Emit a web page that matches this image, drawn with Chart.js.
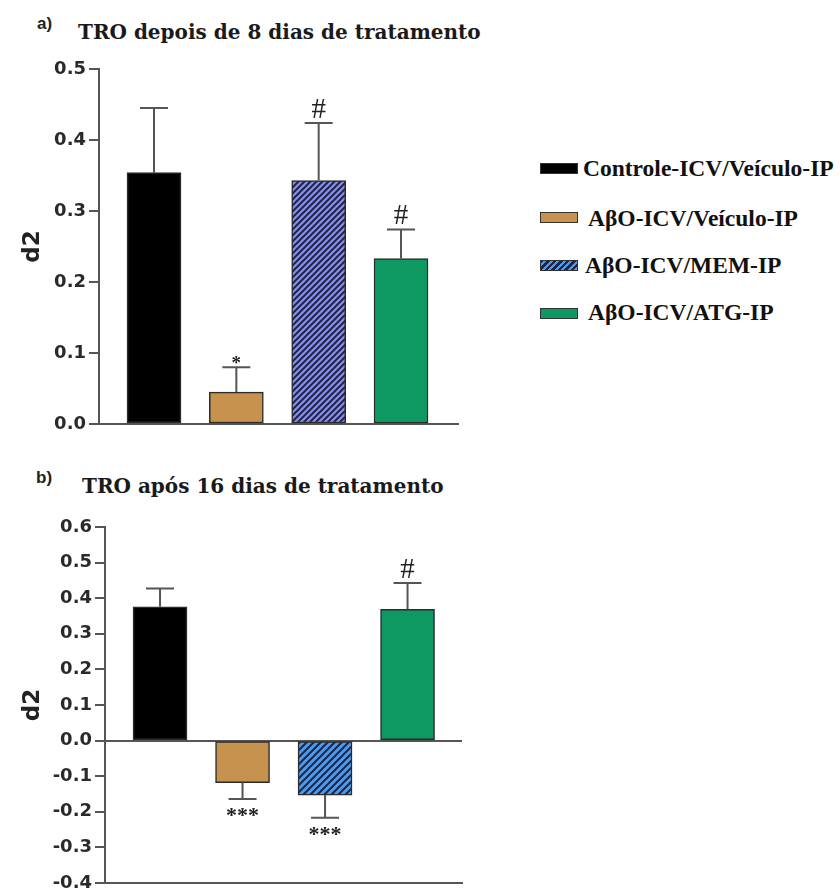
<!DOCTYPE html>
<html>
<head>
<meta charset="utf-8">
<script src="https://cdn.jsdelivr.net/npm/chart.js@4.4.1/dist/chart.umd.min.js"></script>
<style>
  html, body { margin:0; padding:0; background:#fff; width:840px; height:891px; overflow:hidden; }
  .abs { position:absolute; white-space:nowrap; }
  .panel { font-family:"Liberation Sans", Arial, sans-serif; font-weight:bold; font-size:17px; line-height:17px; color:#222; }
  .title { font-family:"DejaVu Serif", serif; font-weight:bold; font-size:20px; line-height:20px; color:#1a1a1a; }
  .legtxt { font-family:"Liberation Serif", "Times New Roman", serif; font-weight:bold; font-size:23.5px; line-height:23.5px; color:#111; }
  .sw { position:absolute; width:38px; height:11px; box-sizing:border-box; border:1.5px solid #333; }
</style>
</head>
<body>
<div class="abs panel" style="left:37px; top:15px;">a)</div>
<div class="abs title" style="left:78px; top:22px;">TRO depois de 8 dias de tratamento</div>
<div class="abs panel" style="left:36px; top:469px;">b)</div>
<div class="abs title" style="left:82px; top:476px;">TRO após 16 dias de tratamento</div>

<div id="legend"></div>

<div class="abs" style="left:0; top:0; width:480px; height:450px;"><canvas id="chartA"></canvas></div>
<div class="abs" style="left:0; top:440px; width:480px; height:460px;"><canvas id="chartB"></canvas></div>

<script>
// ---------- data ----------
const categories = ["Controle-ICV/Veículo-IP", "AβO-ICV/Veículo-IP", "AβO-ICV/MEM-IP", "AβO-ICV/ATG-IP"];
const meansA  = [0.354, 0.045, 0.343, 0.233];
const errorsA = [0.091, 0.035, 0.081, 0.041];
const marksA  = ["", "*", "#", "#"];
const meansB  = [0.376, -0.118, -0.153, 0.369];
const errorsB = [0.051, 0.046, 0.064, 0.074];
const marksB  = ["", "***", "***", "#"];
const ticksA  = { min: 0, max: 0.5, step: 0.1 };
const ticksB  = { min: -0.4, max: 0.6, step: 0.1 };

// ---------- styles ----------
const BLACK = "#000000", TAN = "#c6924d", GREEN = "#0f9962";
const MEM_A_BG = "#8a8cf2", MEM_B_BG = "#4b9bef", STRIPE = "#1d2548";
const AXIS = "#555555";

function hatch(bg, fg, size, lw) {
  const c = document.createElement("canvas");
  c.width = c.height = size;
  const g = c.getContext("2d");
  g.fillStyle = bg; g.fillRect(0, 0, size, size);
  g.strokeStyle = fg; g.lineWidth = lw; g.lineCap = "square";
  g.beginPath();
  g.moveTo(-size, size); g.lineTo(size, -size);          // x+y = 0
  g.moveTo(-size, 2 * size); g.lineTo(2 * size, -size);  // x+y = size
  g.moveTo(0, 2 * size); g.lineTo(2 * size, 0);          // x+y = 2*size
  g.stroke();
  return g.createPattern(c, "repeat");
}

// legend (HTML)
const legRows = [
  { sw: "background:" + BLACK, top: 163, textLeft: 583, textTop: 157 },
  { sw: "background:" + TAN, top: 212, textLeft: 588, textTop: 207 },
  { sw: "background:repeating-linear-gradient(-45deg," + MEM_B_BG + " 0 2.4px," + STRIPE + " 2.4px 4.6px)", top: 260, textLeft: 585, textTop: 254 },
  { sw: "background:" + GREEN, top: 308, textLeft: 588, textTop: 301 }
];
const leg = document.getElementById("legend");
legRows.forEach((r, i) => {
  const s = document.createElement("div");
  s.className = "sw"; s.style.cssText += r.sw + ";left:540px;top:" + r.top + "px;";
  leg.appendChild(s);
  const t = document.createElement("div");
  t.className = "abs legtxt"; t.style.left = r.textLeft + "px"; t.style.top = r.textTop + "px";
  t.textContent = categories[i];
  leg.appendChild(t);
});

// error bars + significance marks
const errorPlugin = {
  id: "errbars",
  afterDatasetsDraw(chart, args, opts) {
    const ctx = chart.ctx, y = chart.scales.y;
    const meta = chart.getDatasetMeta(0);
    meta.data.forEach((bar, i) => {
      const v = opts.means[i], e = opts.errors[i];
      const sgn = v >= 0 ? 1 : -1;
      const y0 = y.getPixelForValue(v), y1 = y.getPixelForValue(v + sgn * e);
      ctx.save();
      ctx.strokeStyle = AXIS; ctx.lineWidth = 2;
      ctx.beginPath();
      ctx.moveTo(bar.x, y0); ctx.lineTo(bar.x, y1);
      ctx.moveTo(bar.x - 14, y1); ctx.lineTo(bar.x + 14, y1);
      ctx.stroke();
      const m = opts.marks[i];
      if (m) {
        ctx.fillStyle = "#222"; ctx.textAlign = "center"; ctx.textBaseline = "alphabetic";
        if (m.indexOf("#") >= 0) {
          ctx.font = "29px 'Liberation Serif', serif";
          ctx.fillText(m, bar.x, y1 - 5);
        } else {
          if (sgn > 0) { ctx.font = "bold 19px 'Liberation Serif', serif"; ctx.fillText(m, bar.x, y1 + 2); }
          else { ctx.font = "bold 22px 'Liberation Serif', serif"; ctx.fillText(m, bar.x, y1 + 23); }
        }
      }
      ctx.restore();
    });
  }
};

function makeChart(id, means, errors, marks, tk, memBg, stripeSize, pad, yWidth, xRange) {
  const memPattern = hatch(memBg, STRIPE, stripeSize, 2);
  return new Chart(document.getElementById(id), {
    type: "bar",
    data: {
      datasets: [{
        label: "d2",
        data: means.map((v, i) => ({ x: i, y: v })),
        backgroundColor: [BLACK, TAN, memPattern, GREEN],
        borderColor: "#2b2b2b",
        borderWidth: 1.5,
        borderSkipped: false,
        barThickness: 54
      }]
    },
    options: {
      responsive: true, maintainAspectRatio: false, animation: false,
      devicePixelRatio: 1,
      layout: { padding: pad },
      plugins: {
        legend: { display: false }, tooltip: { enabled: false },
        errbars: { means, errors, marks }
      },
      scales: {
        x: {
          type: "linear", min: xRange[0], max: xRange[1], offset: false,
          ticks: { display: false },
          grid: { display: false, drawTicks: false, offset: false },
          border: { display: true, color: AXIS, width: 2 },
          afterFit(s) { s.height = 0; }
        },
        y: {
          min: tk.min, max: tk.max,
          ticks: {
            stepSize: tk.step, color: "#2a2a2a", padding: 3,
            font: { family: "'DejaVu Sans', sans-serif", weight: "bold", size: 18 },
            callback: v => (Math.abs(v) < 1e-9 ? 0 : v).toFixed(1)
          },
          grid: {
            drawOnChartArea: true, drawTicks: true, tickLength: 10, tickWidth: 2,
            lineWidth: 2, tickColor: AXIS,
            color: c => (c.tick && Math.abs(c.tick.value) < 1e-9 && tk.min < 0) ? AXIS : "rgba(0,0,0,0)"
          },
          border: { display: true, color: AXIS, width: 2 },
          title: {
            display: true, text: "d2", color: "#222", padding: { top: 19, bottom: 0 },
            font: { family: "'DejaVu Sans', sans-serif", weight: "bold", size: 23 }
          },
          afterFit(s) { s.width = yWidth; }
        }
      }
    },
    plugins: [errorPlugin]
  });
}

makeChart("chartA", meansA, errorsA, marksA, ticksA, MEM_A_BG, 6,
  { left: 0, right: 22, top: 69, bottom: 26 }, 99, [-0.668, 3.692]);
makeChart("chartB", meansB, errorsB, marksB, ticksB, MEM_B_BG, 7,
  { left: 0, right: 18, top: 87, bottom: 17 }, 105, [-0.667, 3.66]);
</script>
</body>
</html>
